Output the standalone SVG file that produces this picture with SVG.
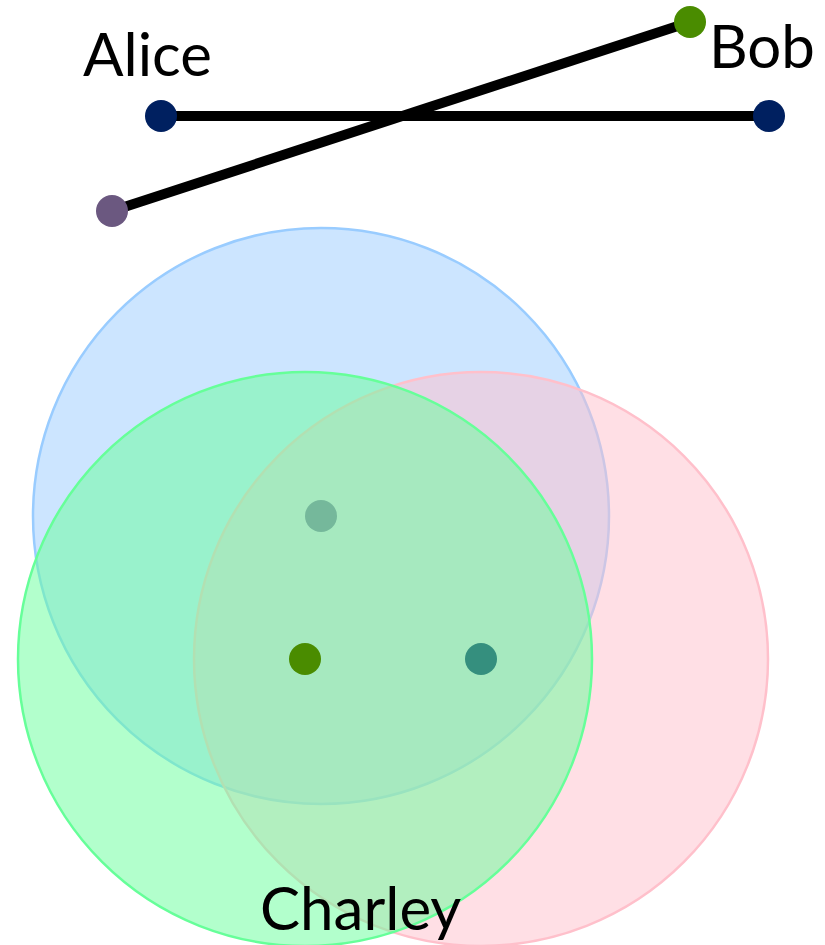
<svg xmlns="http://www.w3.org/2000/svg" width="825" height="945" viewBox="0 0 825 945">
<style>
.lbl{font-family:Lato,"Open Sans","Liberation Sans",sans-serif;font-size:60px;fill:#000}
.edge{stroke:#000;stroke-width:10;fill:none}
.set{stroke-width:2.5;fill-opacity:0.5}
</style>
<rect width="825" height="945" fill="#fff"/>
<g id="connectors">
<line class="edge" x1="161" y1="116" x2="769" y2="116"/>
<line class="edge" x1="112" y1="211" x2="690" y2="22"/>
</g>
<g id="set-blue"><circle class="set" cx="321" cy="516" r="288" fill="#99ccff" stroke="#99ccff"/></g>
<g id="set-pink"><circle class="set" cx="481" cy="659" r="287" fill="#ffc0cb" stroke="#ffc0cb"/></g>
<g id="set-green"><circle class="set" cx="305" cy="659" r="287" fill="#66ff99" stroke="#66ff99"/></g>
<g id="alice"><text class="lbl" x="83" y="76">Alice</text><circle cx="161" cy="116" r="16" fill="#002060"/></g>
<g id="alice-end"><circle cx="769" cy="116" r="16" fill="#002060"/></g>
<g id="bob"><text class="lbl" x="709" y="68">Bob</text><circle cx="690" cy="22" r="16" fill="#4a8c00"/></g>
<g id="bob-end"><circle cx="112" cy="211" r="16" fill="#6b5880"/></g>
<g id="charley"><text class="lbl" x="260" y="930">Charley</text></g>
<g id="dot-a"><circle cx="321" cy="516" r="16" fill="#75b89b"/></g>
<g id="dot-b"><circle cx="305" cy="659" r="16" fill="#4a8c00"/></g>
<g id="dot-c"><circle cx="481" cy="659" r="16" fill="#358f7e"/></g>
</svg>
